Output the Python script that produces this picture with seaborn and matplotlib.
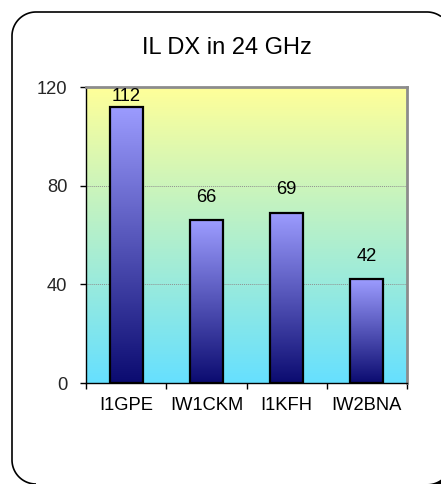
import numpy as np
import pandas as pd
import matplotlib
matplotlib.use("Agg")
import matplotlib.pyplot as plt
import seaborn as sns
from matplotlib.colors import LinearSegmentedColormap

# ---- data ----
title = "IL DX in 24 GHz"
callsigns = ["I1GPE", "IW1CKM", "I1KFH", "IW2BNA"]
dx_km = [112, 66, 69, 42]
y_ticks = [0, 40, 80, 120]

sns.set_theme(style="white")
plt.rcParams["font.family"] = ["Liberation Sans", "DejaVu Sans"]

W, H = 441, 484
fig = plt.figure(figsize=(W / 100, H / 100), dpi=100)
fig.patch.set_facecolor("white")

# ---- rounded chart frame, drawn in pixel coords (y downward) ----
bg = fig.add_axes([0, 0, 1, 1])
bg.set_xlim(0, W)
bg.set_ylim(H, 0)
bg.axis("off")
bg.set_zorder(0)

R = 24.0
L, T, Rt, B = 12.0, 12.0, 451.0, 484.0


def arc(cx, cy, a0, a1, n=40):
    t = np.radians(np.linspace(a0, a1, n))
    return cx + R * np.cos(t), cy + R * np.sin(t)


# bottom-left arc (from bottom to left), left edge, top-left arc, top edge, top-right arc
x1, y1 = arc(L + R, B - R, 90, 180)
x2, y2 = arc(L + R, T + R, 180, 270)
a_end = np.degrees(np.arccos((W - (Rt - R)) / R))  # where top-right arc leaves the canvas
x3, y3 = arc(Rt - R, T + R, 270, 360 - a_end)
fx = np.concatenate([x1, x2, x3])
fy = np.concatenate([y1, y2, y3])
bg.plot(fx, fy, color="black", linewidth=1.2, solid_capstyle="butt", clip_on=False)

# black area outside the bottom-right rounded corner
a_br = np.degrees(np.arccos((W - (Rt - R)) / R))
x4, y4 = arc(Rt - R, B - R, a_br, 90)
bg.fill(np.concatenate([x4, [W]]), np.concatenate([y4, [H]]), color="black",
        linewidth=0, clip_on=False)

# ---- the chart ----
ax = fig.add_axes([86 / W, 1 - 383 / H, (407 - 86) / W, (383 - 87) / H])
ax.set_zorder(2)

df = pd.DataFrame({"call": callsigns, "dx": dx_km})
sns.barplot(data=df, x="call", y="dx", width=0.41, ax=ax,
            color="#9999ff", edgecolor="black", linewidth=1.6, zorder=3)

# plot-area gradient
bg_cmap = LinearSegmentedColormap.from_list("bg", ["#66e0ff", "#ffff99"])
grad = np.linspace(0, 1, 256).reshape(-1, 1)
ax.imshow(grad, extent=[-0.5, 3.5, 0, 120], origin="lower", aspect="auto",
          cmap=bg_cmap, zorder=0)

# bar gradients
bar_cmap = LinearSegmentedColormap.from_list("bar", ["#0b0b70", "#9c9cff"])
for p in ax.patches:
    x, w, h = p.get_x(), p.get_width(), p.get_height()
    p.set_facecolor("none")
    im = ax.imshow(grad, extent=[x, x + w, 0, h], origin="lower", aspect="auto",
                   cmap=bar_cmap, zorder=2.5)
    im.set_clip_path(p)

ax.set_xlim(-0.5, 3.5)
ax.set_ylim(0, 120)

# grid lines
for g in y_ticks[1:-1]:
    ax.axhline(g, color="#909090", linestyle=(0, (1, 1)), linewidth=0.7, zorder=1)

# value labels
px_per_unit = (383 - 87) / 120
for i, v in enumerate(dx_km):
    ybot = min(v + 14.5 / px_per_unit, 120 - 18 / px_per_unit)
    ax.text(i, ybot, str(v), ha="center", va="bottom", fontsize=13.2,
            color="black", zorder=5)

# axes styling
ax.set_yticks(y_ticks)
ax.set_yticklabels([str(t) for t in y_ticks], fontsize=13.2)
ax.set_xticks(range(len(callsigns)))
ax.set_xticklabels(callsigns, fontsize=13.2)
ax.set_xticks([-0.5, 0.5, 1.5, 2.5, 3.5], minor=True)
ax.tick_params(axis="x", which="major", length=0, pad=10, colors="black")
ax.tick_params(axis="x", which="minor", length=4.5, width=1, color="black",
               direction="out", bottom=True)
ax.tick_params(axis="y", which="major", length=4.5, width=1, color="black",
               direction="out", pad=9, left=True)
ax.set_xlabel("")
ax.set_ylabel("")
for s in ["left", "bottom"]:
    ax.spines[s].set_color("black")
    ax.spines[s].set_linewidth(1.0)
for s in ["top", "right"]:
    ax.spines[s].set_color("#8c8c8c")
    ax.spines[s].set_linewidth(2.0)
    ax.spines[s].set_visible(True)
ax.grid(False)

fig.text(227 / W, 1 - 48 / H, title, ha="center", va="center", fontsize=17,
         color="black", zorder=5)

fig.savefig("out.png", dpi=100)
